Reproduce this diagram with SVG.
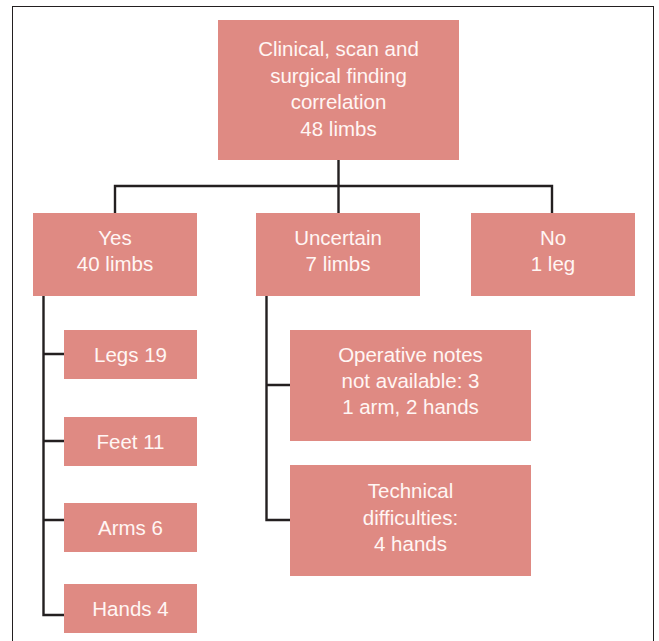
<svg xmlns="http://www.w3.org/2000/svg" width="659" height="641" viewBox="0 0 659 641">
<style>
.box{fill:#df8a83}
.t{font-family:"Liberation Sans",Arial,sans-serif;font-size:20.5px;fill:#fff6f4;text-anchor:middle}
.c{fill:none;stroke:#231f20;stroke-width:2.4;stroke-linejoin:miter}
</style>
<rect x="0" y="0" width="659" height="641" fill="#ffffff"/>
<rect x="12.5" y="6.5" width="641" height="645" fill="none" stroke="#231f20" stroke-width="1"/>
<g id="connectors">
<path class="c" d="M338.5 160 V186 M115 213 V186 H552 V213 M338.5 186 V213"/>
<path class="c" d="M43.5 296 V615 H64 M43.5 354 H64 M43.5 441 H64 M43.5 520 H64"/>
<path class="c" d="M266.5 296 V520 H290 M266.5 385 H290"/>
</g>
<g id="root"><rect class="box" x="218" y="20" width="241" height="140"/>
<text class="t" x="338.5" y="56">Clinical, scan and</text>
<text class="t" x="338.5" y="82.5">surgical finding</text>
<text class="t" x="338.5" y="109">correlation</text>
<text class="t" x="338.5" y="135.5">48 limbs</text></g>
<g id="yes"><rect class="box" x="33" y="213" width="164" height="83"/>
<text class="t" x="115" y="245">Yes</text><text class="t" x="115" y="271">40 limbs</text></g>
<g id="uncertain"><rect class="box" x="256" y="213" width="164" height="83"/>
<text class="t" x="338" y="245">Uncertain</text><text class="t" x="338" y="271">7 limbs</text></g>
<g id="no"><rect class="box" x="471" y="213" width="164" height="83"/>
<text class="t" x="553" y="245">No</text><text class="t" x="553" y="271">1 leg</text></g>
<g id="legs"><rect class="box" x="64" y="330" width="133" height="49"/>
<text class="t" x="130.5" y="361.5">Legs 19</text></g>
<g id="feet"><rect class="box" x="64" y="417" width="133" height="49"/>
<text class="t" x="130.5" y="448.5">Feet 11</text></g>
<g id="arms"><rect class="box" x="64" y="503" width="133" height="49"/>
<text class="t" x="130.5" y="534.5">Arms 6</text></g>
<g id="hands"><rect class="box" x="64" y="584" width="133" height="49"/>
<text class="t" x="130.5" y="615.5">Hands 4</text></g>
<g id="operative"><rect class="box" x="290" y="330" width="241" height="111"/>
<text class="t" x="410.5" y="362">Operative notes</text>
<text class="t" x="410.5" y="388">not available: 3</text>
<text class="t" x="410.5" y="414">1 arm, 2 hands</text></g>
<g id="technical"><rect class="box" x="290" y="465" width="241" height="111"/>
<text class="t" x="410.5" y="498">Technical</text>
<text class="t" x="410.5" y="525">difficulties:</text>
<text class="t" x="410.5" y="551">4 hands</text></g>
</svg>
